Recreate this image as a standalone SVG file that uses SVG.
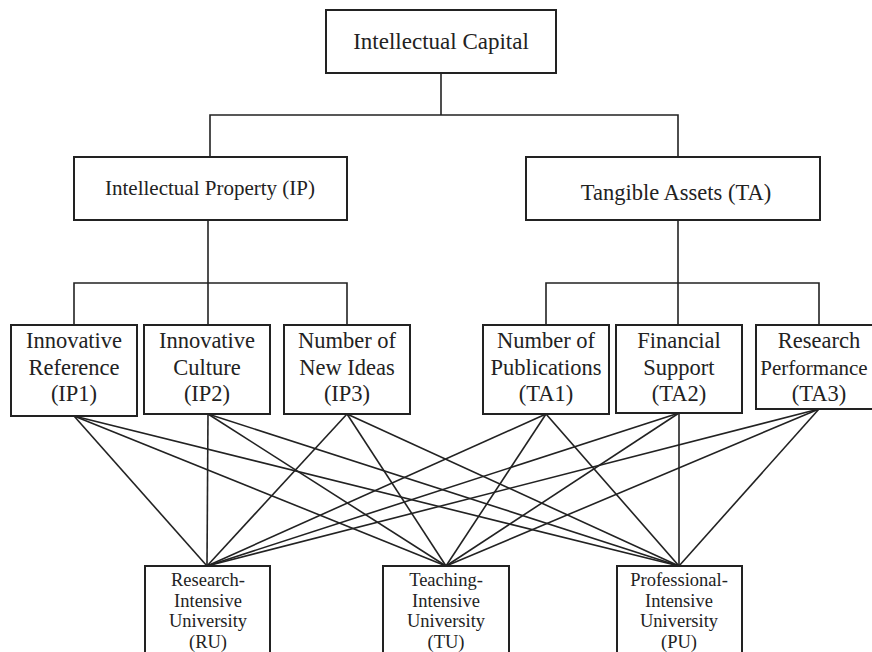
<svg xmlns="http://www.w3.org/2000/svg" width="872" height="652" viewBox="0 0 872 652">
<style>
.box{fill:#fff;stroke:#222;stroke-width:2}
.t{font-family:"Liberation Serif","Times New Roman",serif;fill:#222;text-anchor:middle}
.l1{font-size:23px}
.l2{font-size:21px}
.l3{font-size:22.5px}
.l4{font-size:18.5px}
.c line,.c polyline{stroke:#222;stroke-width:1.6;fill:none}
</style>
<rect width="872" height="652" fill="#fff"/>
<g class="c" id="connectors">
<polyline points="441,73 441,115"/>
<polyline points="210,157 210,115 678,115 678,157"/>
<polyline points="208,220 208,283"/>
<polyline points="74,325 74,283 347,283 347,325"/>
<polyline points="678,220 678,283"/>
<polyline points="546,325 546,283 819,283 819,325"/>
<line x1="208" y1="283" x2="208" y2="325"/>
<line x1="678" y1="283" x2="678" y2="325"/>
<line x1="74" y1="416" x2="207" y2="566"/>
<line x1="74" y1="416" x2="446" y2="566"/>
<line x1="74" y1="416" x2="679" y2="566"/>
<line x1="208" y1="414" x2="207" y2="566"/>
<line x1="208" y1="414" x2="446" y2="566"/>
<line x1="208" y1="414" x2="679" y2="566"/>
<line x1="347" y1="414" x2="207" y2="566"/>
<line x1="347" y1="414" x2="446" y2="566"/>
<line x1="347" y1="414" x2="679" y2="566"/>
<line x1="546" y1="414" x2="207" y2="566"/>
<line x1="546" y1="414" x2="446" y2="566"/>
<line x1="546" y1="414" x2="679" y2="566"/>
<line x1="679" y1="413" x2="207" y2="566"/>
<line x1="679" y1="413" x2="446" y2="566"/>
<line x1="679" y1="413" x2="679" y2="566"/>
<line x1="819" y1="409" x2="207" y2="566"/>
<line x1="819" y1="409" x2="446" y2="566"/>
<line x1="819" y1="409" x2="679" y2="566"/>
</g>
<g id="ic"><rect class="box" x="326" y="10" width="230" height="63"/><text class="t l1" x="441" y="49">Intellectual Capital</text></g>
<g id="ip"><rect class="box" x="74" y="157" width="273" height="63"/><text class="t l2" x="210" y="195">Intellectual Property (IP)</text></g>
<g id="ta"><rect class="box" x="526" y="157" width="294" height="63"/><text class="t l3" x="676" y="200">Tangible Assets (TA)</text></g>
<g id="ip1"><rect class="box" x="11" y="325" width="126" height="91"/><text class="t l3"><tspan x="74" y="348">Innovative</tspan><tspan x="74" y="375">Reference</tspan><tspan x="74" y="401">(IP1)</tspan></text></g>
<g id="ip2"><rect class="box" x="144" y="325" width="126" height="89"/><text class="t l3"><tspan x="207" y="348">Innovative</tspan><tspan x="207" y="375">Culture</tspan><tspan x="207" y="401">(IP2)</tspan></text></g>
<g id="ip3"><rect class="box" x="284" y="325" width="126" height="89"/><text class="t l3"><tspan x="347" y="348">Number of</tspan><tspan x="347" y="375">New Ideas</tspan><tspan x="347" y="401">(IP3)</tspan></text></g>
<g id="ta1"><rect class="box" x="483" y="325" width="126" height="89"/><text class="t l3"><tspan x="546" y="348">Number of</tspan><tspan x="546" y="375">Publications</tspan><tspan x="546" y="401">(TA1)</tspan></text></g>
<g id="ta2"><rect class="box" x="616" y="325" width="126" height="88"/><text class="t l3"><tspan x="679" y="348">Financial</tspan><tspan x="679" y="375">Support</tspan><tspan x="679" y="401">(TA2)</tspan></text></g>
<g id="ta3"><rect class="box" x="756" y="325" width="126" height="84"/><text class="t l3"><tspan x="819" y="348">Research</tspan><tspan x="819" y="401">(TA3)</tspan></text><text class="t" style="font-size:21px" x="814" y="375">Performance</text></g>
<g id="ru"><rect class="box" x="145" y="566" width="125" height="100"/><text class="t l4"><tspan x="208" y="586">Research-</tspan><tspan x="208" y="607">Intensive</tspan><tspan x="208" y="627">University</tspan><tspan x="208" y="648">(RU)</tspan></text></g>
<g id="tu"><rect class="box" x="383" y="566" width="126" height="100"/><text class="t l4"><tspan x="446" y="586">Teaching-</tspan><tspan x="446" y="607">Intensive</tspan><tspan x="446" y="627">University</tspan><tspan x="446" y="648">(TU)</tspan></text></g>
<g id="pu"><rect class="box" x="617" y="566" width="125" height="100"/><text class="t l4"><tspan x="679" y="586">Professional-</tspan><tspan x="679" y="607">Intensive</tspan><tspan x="679" y="627">University</tspan><tspan x="679" y="648">(PU)</tspan></text></g>
</svg>
